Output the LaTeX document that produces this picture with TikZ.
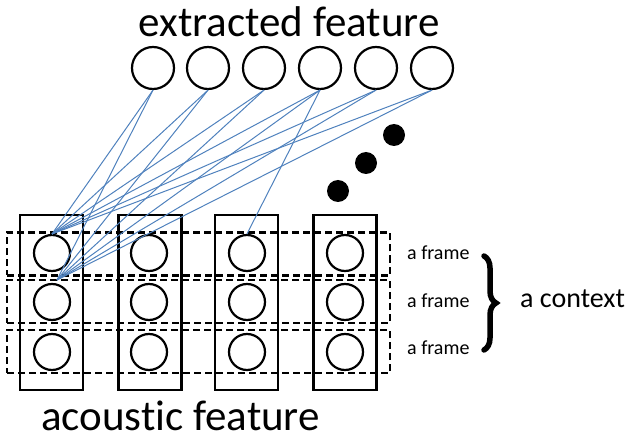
\documentclass[tikz,border=0pt]{standalone}
\usepackage{fontspec}
\setmainfont{Carlito}[Ligatures=NoCommon]
\usetikzlibrary{decorations.pathreplacing}
\definecolor{linkblue}{RGB}{79,129,189}
\begin{document}
\begin{tikzpicture}[x=1pt,y=-1pt,
  topcirc/.style={circle,draw,line width=2.2pt,minimum size=42pt,inner sep=0pt},
  botcirc/.style={circle,draw,line width=2.2pt,minimum size=36pt,inner sep=0pt},
  colbox/.style={draw,line width=2.2pt,minimum width=63pt,minimum height=175pt,inner sep=0pt},
  rowbox/.style={draw,dashed,dash pattern=on 7pt off 4pt,line width=2.2pt,minimum width=383pt,minimum height=43pt,inner sep=0pt},
  link/.style={draw=linkblue,line width=1pt},
  dot/.style={circle,fill=black,minimum size=22pt,inner sep=0pt},
  lbl/.style={inner sep=0pt}]
\useasboundingbox (0,0) rectangle (630,441);
% column boxes
\foreach \i/\x in {1/51.5,2/150,3/246.5,4/345}{
  \node[colbox] (col\i) at (\x,302.5) {};
}
% dashed rows
\foreach \j/\y in {1/254,2/301.5,3/351.5}{
  \node[rowbox] (row\j) at (198.5,\y) {};
}
% bottom circles
\foreach \i/\x in {1/52,2/149,3/247,4/345}{
  \foreach \j/\y in {1/253,2/302,3/352}{
    \node[botcirc] (c\i\j) at (\x,\y) {};
  }
}
% top circles
\foreach \i/\x in {1/153,2/208,3/264,4/320,5/376,6/432}{
  \node[topcirc] (t\i) at (\x,68) {};
}
\coordinate (pA) at (52,234);
\coordinate (pB) at (57,280);
\foreach \i in {1,...,6}{
  \draw[link] (t\i.south) -- (pA);
  \draw[link] (t\i.south) -- (pB);
}
\draw[link] (t4.south) -- (c31.north);
% dots
\node[dot] (d1) at (338,191) {};
\node[dot] (d2) at (366,163) {};
\node[dot] (d3) at (394,135) {};
% texts
\node[lbl,font=\fontsize{43}{48}\selectfont,anchor=base] (tx1) at (289,37) {extracted feature};
\node[lbl,font=\fontsize{43}{48}\selectfont,anchor=base] (tx2) at (180.5,430) {acoustic feature};
\node[lbl,font=\fontsize{20}{24}\selectfont,anchor=base west] (f1) at (407,260) {a frame};
\node[lbl,font=\fontsize{20}{24}\selectfont,anchor=base west] (f2) at (407,307) {a frame};
\node[lbl,font=\fontsize{20}{24}\selectfont,anchor=base west] (f3) at (407,354) {a frame};
\draw[line width=5.5pt,line cap=round,decorate,decoration={brace,amplitude=12pt}] (484,256) -- (484,350);
\node[lbl,font=\fontsize{28}{32}\selectfont,anchor=base west] (ctx) at (520,307) {a context};
\end{tikzpicture}
\end{document}
